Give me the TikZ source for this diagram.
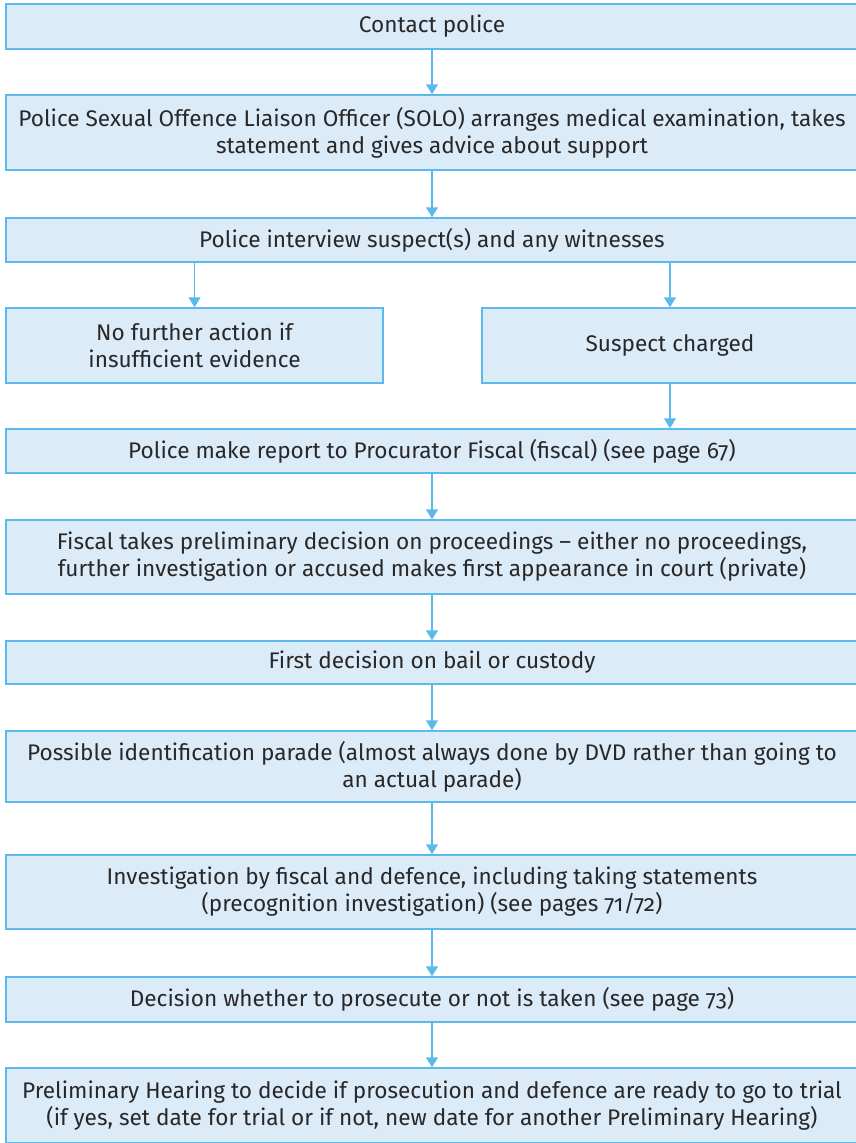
\documentclass[tikz,border=0pt]{standalone}
\usepackage{fontspec}
\setmainfont{Fira Sans}[Numbers=OldStyle]
\usetikzlibrary{arrows.meta}
\definecolor{boxfill}{RGB}{220,235,248}
\definecolor{boxline}{RGB}{91,185,235}
\definecolor{txt}{RGB}{40,40,40}
\tikzset{
  stage/.style={draw=boxline,fill=boxfill,line width=1.5pt,inner sep=0pt,
    minimum width=852pt,align=center,text=txt,
    font=\fontsize{22.6}{27}\selectfont},
  flow/.style={draw=boxline,line width=1.5pt,-{Triangle[width=12pt,length=10pt]}}
}
\begin{document}
\begin{tikzpicture}[x=1pt,y=-1pt]
            \useasboundingbox (0,0) rectangle (855,1143);
            % main column of stages
            \foreach \n/\y/\h/\t in {
              s1/26.5/45/{Contact police},
              s2/132.5/75/{Police Sexual Offence Liaison Officer (SOLO) arranges medical examination, takes\\statement and gives advice about support},
              s3/240/44/{Police interview suspect(s) and any witnesses},
              s6/451/44/{Police make report to Procurator Fiscal (fiscal) (see page 67)},
              s7/557/74/{Fiscal takes preliminary decision on proceedings -- either no proceedings,\\further investigation or accused makes first appearance in court (private)},
              s8/662.5/43/{First decision on bail or custody},
              s9/766.5/71/{Possible identification parade (almost always done by DVD rather than going to\\an actual parade)},
              s10/892/74/{Investigation by fiscal and defence, including taking statements\\(precognition investigation) (see pages 71/72)},
              s11/999.5/45/{Decision whether to prosecute or not is taken (see page 73)},
              s12/1105.5/75/{Preliminary Hearing to decide if prosecution and defence are ready to go to trial\\(if yes, set date for trial or if not, new date for another Preliminary Hearing)}} {
            \node[stage,minimum height=\h pt] (\n) at (432,\y) {\t};}

            % split after the interview
            \node[stage,minimum width=377pt,minimum height=75pt] (s4) at (194.5,345.5) {No further action if\\insufficient evidence};
            \node[stage,minimum width=376pt,minimum height=75pt] (s5) at (670,345.5) {Suspect charged};

            \foreach \a/\b in {s1/s2,s2/s3,s6/s7,s7/s8,s8/s9,s9/s10,s10/s11,s11/s12} {
            \draw[flow] (\a) -- (\b);}

            \draw[flow] (s3.south -| s4) -- (s4.north);
            \draw[flow] (s3.south -| s5) -- (s5.north);
            \draw[flow] (s5.south) -- (s5.south |- s6.north);
\end{tikzpicture}
\end{document}
